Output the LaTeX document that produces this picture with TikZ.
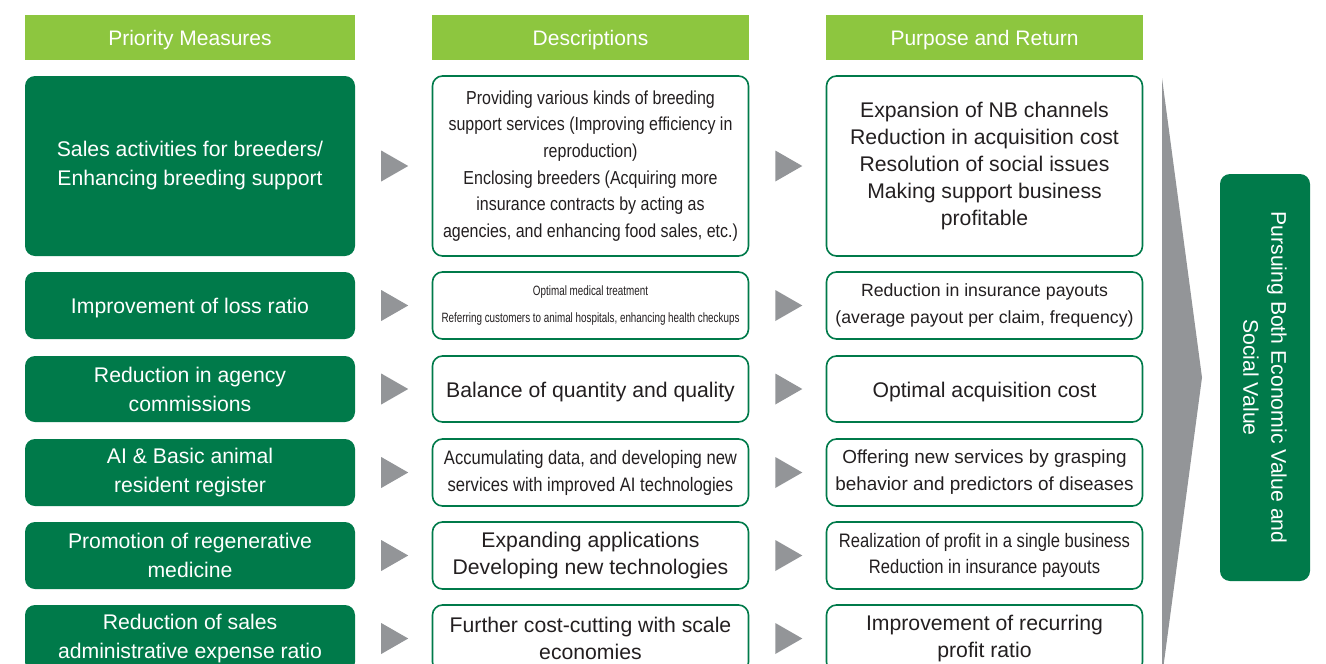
\documentclass[tikz,border=0pt]{standalone}
\usepackage{fontspec}
\setmainfont{Liberation Sans}
\newfontfamily\narrowfont[FakeStretch=0.85]{Liberation Sans}
\newfontfamily\tinyfont[FakeStretch=0.73]{Liberation Sans}
\usetikzlibrary{calc}
\definecolor{darkgreen}{RGB}{0,122,74}
\definecolor{lightgreen}{RGB}{141,198,63}
\definecolor{arrowgray}{RGB}{147,149,152}
\definecolor{textgray}{RGB}{35,31,32}

\begin{document}
\begin{tikzpicture}[x=1pt,y=-1pt,
    head/.style={fill=lightgreen, text=white, minimum height=45, inner sep=0, text height=16, text depth=0, font=\fontsize{21}{24}\selectfont},
    measure/.style={fill=darkgreen, text=white, rounded corners=10, minimum width=330, align=center, inner sep=0, font=\fontsize{21.2}{29}\selectfont},
    result/.style={draw=darkgreen, line width=1.6, fill=white, text=textgray, rounded corners=10, minimum width=316, align=center, inner sep=0, font=\fontsize{21.2}{26.3}\selectfont},
    oneline/.style={text height=16, text depth=0},
    tri/.style={fill=arrowgray}]
  \useasboundingbox (0,0) rectangle (1326,664);

  % column heads
  \node[head, minimum width=330] (h1) at (190,37.5) {Priority Measures};
  \node[head, minimum width=317] (h2) at (590.5,37.5) {Descriptions};
  \node[head, minimum width=317] (h3) at (984.5,37.5) {Purpose and Return};

  % priority measures
  \node[measure, minimum height=180] (m1) at (190,166) {Sales activities for breeders/\\Enhancing breeding support};
  \node[measure, oneline, minimum height=67] (m2) at (190,305.5) {Improvement of loss ratio};
  \node[measure, minimum height=66] (m3) at (190,389) {Reduction in agency\\commissions};
  \node[measure, minimum height=67] (m4) at (190,472.5) {AI \& Basic animal\\resident register};
  \node[measure, minimum height=67] (m5) at (190,555.5) {Promotion of regenerative\\medicine};
  \node[measure, minimum height=67] (m6) at (190,638.5) {Reduction of sales\\administrative expense ratio};

  % descriptions
  \node[result, minimum height=180, font=\narrowfont\fontsize{18.8}{26.6}\selectfont] (d1) at (590.5,166)
    {Providing various kinds of breeding\\support services (Improving efficiency in\\reproduction)\\Enclosing breeders (Acquiring more\\insurance contracts by acting as\\agencies, and enhancing food sales, etc.)};
  \node[result, minimum height=67, font=\tinyfont\fontsize{13.5}{27}\selectfont] (d2) at (590.5,305.5)
    {Optimal medical treatment\\Referring customers to animal hospitals, enhancing health checkups};
  \node[result, oneline, minimum height=66] (d3) at (590.5,389) {Balance of quantity and quality};
  \node[result, minimum height=67, font=\narrowfont\fontsize{19.5}{27}\selectfont] (d4) at (590.5,472.5)
    {Accumulating data, and developing new\\services with improved AI technologies};
  \node[result, minimum height=67] (d5) at (590.5,555.5)
    {Expanding applications\\Developing new technologies};
  \node[result, minimum height=67] (d6) at (590.5,638.5)
    {Further cost-cutting with scale\\economies};

  % purpose and return
  \node[result, minimum height=180, font=\fontsize{21.2}{26.8}\selectfont] (p1) at (984.5,166)
    {Expansion of NB channels\\Reduction in acquisition cost\\Resolution of social issues\\Making support business\\profitable};
  \node[result, minimum height=67, font=\fontsize{17.7}{27}\selectfont] (p2) at (984.5,305.5)
    {Reduction in insurance payouts\\(average payout per claim, frequency)};
  \node[result, oneline, minimum height=66] (p3) at (984.5,389) {Optimal acquisition cost};
  \node[result, minimum height=67, font=\fontsize{18.9}{27}\selectfont] (p4) at (984.5,472.5)
    {Offering new services by grasping\\behavior and predictors of diseases};
  \node[result, minimum height=67, font=\narrowfont\fontsize{19.5}{26}\selectfont] (p5) at (984.5,555.5)
    {Realization of profit in a single business\\Reduction in insurance payouts};
  \node[result, minimum height=67] (p6) at (984.5,638.5)
    {Improvement of recurring\\profit ratio};

  % small arrows between the columns
  \foreach \r in {1,...,6} {
    \fill[tri] (m\r.east) ++(26,-15.5) -- ++(27,15.5) -- ++(-27,15.5) -- cycle;
    \fill[tri] (d\r.east) ++(26,-15.5) -- ++(27,15.5) -- ++(-27,15.5) -- cycle;
  }

  % goal
  \node[fill=darkgreen, rounded corners=10, minimum width=90, minimum height=407, inner sep=0] (goal) at (1265,377.5) {};
  \node[text=white, rotate=-90, align=center, font=\fontsize{21.2}{28}\selectfont] (goaltext) at (goal.center)
    {Pursuing Both Economic Value and\\Social Value};

  % big arrow
  \coordinate (top) at (1162,78);
  \coordinate (tip) at (1202,377.5);
  \coordinate (bottom) at (1162,677);
  \fill[tri] (top) -- (tip) -- (bottom) -- cycle;
\end{tikzpicture}
\end{document}
